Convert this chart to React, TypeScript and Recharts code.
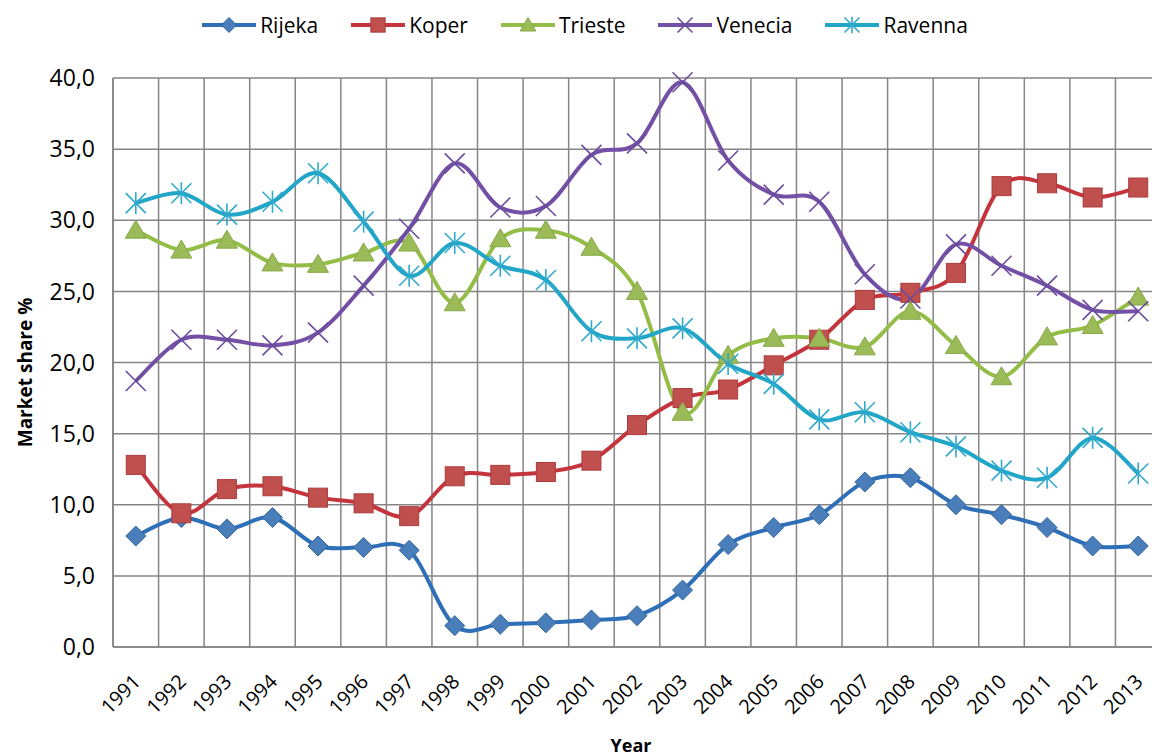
import React from "react";
import {
  CartesianGrid,
  Legend,
  Line,
  LineChart,
  XAxis,
  YAxis,
} from "recharts";

const years = [
  1991, 1992, 1993, 1994, 1995, 1996, 1997, 1998, 1999, 2000, 2001, 2002,
  2003, 2004, 2005, 2006, 2007, 2008, 2009, 2010, 2011, 2012, 2013,
];

const rijeka = [
  7.8, 9.1, 8.3, 9.1, 7.1, 7.0, 6.8, 1.5, 1.6, 1.7, 1.9, 2.2, 4.0, 7.2, 8.4,
  9.3, 11.6, 11.9, 10.0, 9.3, 8.4, 7.1, 7.1,
];
const koper = [
  12.8, 9.4, 11.1, 11.3, 10.5, 10.1, 9.2, 12.0, 12.1, 12.3, 13.1, 15.6, 17.5,
  18.1, 19.8, 21.6, 24.4, 24.9, 26.3, 32.4, 32.6, 31.6, 32.3,
];
const trieste = [
  29.3, 27.9, 28.6, 27.0, 26.9, 27.7, 28.4, 24.2, 28.7, 29.3, 28.1, 25.0, 16.5,
  20.5, 21.7, 21.7, 21.1, 23.6, 21.2, 19.0, 21.8, 22.6, 24.6,
];
const venecia = [
  18.7, 21.6, 21.6, 21.2, 22.1, 25.4, 29.4, 34.0, 30.9, 31.0, 34.6, 35.4, 39.7,
  34.2, 31.8, 31.3, 26.2, 24.5, 28.3, 26.8, 25.4, 23.7, 23.6,
];
const ravenna = [
  31.2, 31.9, 30.4, 31.3, 33.3, 29.9, 26.1, 28.4, 26.8, 25.8, 22.2, 21.7, 22.4,
  19.9, 18.5, 16.0, 16.5, 15.1, 14.1, 12.4, 11.9, 14.7, 12.2,
];

const yTicks = [0, 5, 10, 15, 20, 25, 30, 35, 40];

const data = years.map((year, i) => ({
  year,
  Rijeka: rijeka[i],
  Koper: koper[i],
  Trieste: trieste[i],
  Venecia: venecia[i],
  Ravenna: ravenna[i],
}));

type Shape = "diamond" | "square" | "triangle" | "cross" | "star";

const series: { name: string; line: string; fill: string; edge: string; shape: Shape }[] = [
  { name: "Rijeka", line: "#2e6fb7", fill: "#4a7ebb", edge: "#35679f", shape: "diamond" },
  { name: "Koper", line: "#c3343c", fill: "#c0504d", edge: "#ad3a3c", shape: "square" },
  { name: "Trieste", line: "#93bd47", fill: "#9bbb59", edge: "#86a849", shape: "triangle" },
  { name: "Venecia", line: "#7350a5", fill: "#7350a5", edge: "#6a4c9c", shape: "cross" },
  { name: "Ravenna", line: "#22a6c8", fill: "#2fa9cc", edge: "#2fa9cc", shape: "star" },
];

const FONT = "'Open Sans', 'DejaVu Sans', sans-serif";
const GRID = "#858585";

// Excel style smoothing (catmull-rom through every point)
function excelSmooth(context: any) {
  let pts: number[][] = [];
  return {
    areaStart() {},
    areaEnd() {},
    lineStart() {
      pts = [];
    },
    point(x: number, y: number) {
      pts.push([+x, +y]);
    },
    lineEnd() {
      const n = pts.length;
      if (!n) return;
      context.moveTo(pts[0][0], pts[0][1]);
      for (let i = 0; i < n - 1; i++) {
        const p0 = pts[Math.max(i - 1, 0)];
        const p1 = pts[i];
        const p2 = pts[i + 1];
        const p3 = pts[Math.min(i + 2, n - 1)];
        context.bezierCurveTo(
          p1[0] + (p2[0] - p0[0]) / 6,
          p1[1] + (p2[1] - p0[1]) / 6,
          p2[0] - (p3[0] - p1[0]) / 6,
          p2[1] - (p3[1] - p1[1]) / 6,
          p2[0],
          p2[1]
        );
      }
    },
  };
}

function marker(s: (typeof series)[number], cx: number, cy: number, k: number, key?: string) {
  const r = 10 * k;
  switch (s.shape) {
    case "diamond":
      return (
        <polygon
          key={key}
          points={`${cx},${cy - r} ${cx + r},${cy} ${cx},${cy + r} ${cx - r},${cy}`}
          fill={s.fill}
          stroke={s.edge}
          strokeWidth={1}
        />
      );
    case "square":
      return (
        <rect
          key={key}
          x={cx - 9.5 * k}
          y={cy - 9.5 * k}
          width={19 * k}
          height={19 * k}
          fill={s.fill}
          stroke={s.edge}
          strokeWidth={1}
        />
      );
    case "triangle":
      return (
        <polygon
          key={key}
          points={`${cx},${cy - r} ${cx + 10.5 * k},${cy + 8 * k} ${cx - 10.5 * k},${cy + 8 * k}`}
          fill={s.fill}
          stroke={s.edge}
          strokeWidth={1}
        />
      );
    case "cross":
      return (
        <g key={key} stroke={s.edge} strokeWidth={1.6}>
          <line x1={cx - r} y1={cy - r} x2={cx + r} y2={cy + r} />
          <line x1={cx - r} y1={cy + r} x2={cx + r} y2={cy - r} />
        </g>
      );
    default:
      return (
        <g key={key} stroke={s.edge} strokeWidth={1.6}>
          <line x1={cx - r} y1={cy - r} x2={cx + r} y2={cy + r} />
          <line x1={cx - r} y1={cy + r} x2={cx + r} y2={cy - r} />
          <line x1={cx} y1={cy - r * 1.1} x2={cx} y2={cy + r * 1.1} />
        </g>
      );
  }
}

const YearTick = (props: any) => {
  const { x, y, payload } = props;
  const ax = x + 6;
  const ay = y + 36;
  return (
    <text
      x={ax}
      y={ay}
      transform={`rotate(-45, ${ax}, ${ay})`}
      textAnchor="end"
      fontSize={20}
      fontFamily={FONT}
      fill="#000"
    >
      {payload.value}
    </text>
  );
};

const renderLegend = () => (
  <div
    style={{
      display: "flex",
      justifyContent: "center",
      alignItems: "center",
      height: 30,
      gap: 33,
    }}
  >
    {series.map((s) => (
      <div key={s.name} style={{ display: "flex", alignItems: "center" }}>
        <svg width={54} height={24}>
          <line x1={0} y1={12} x2={54} y2={12} stroke={s.line} strokeWidth={4} />
          {marker(s, 27, 12, 0.75)}
        </svg>
        <span style={{ marginLeft: 4, fontFamily: FONT, fontSize: 21, color: "#000" }}>
          {s.name}
        </span>
      </div>
    ))}
  </div>
);

export default function App() {
  return (
    <div
      style={{
        position: "absolute",
        left: 0,
        top: 0,
        width: 1152,
        height: 756,
        overflow: "hidden",
        background: "#fff",
      }}
    >
      <LineChart
        width={1170}
        height={756}
        data={data}
        margin={{ top: 48, right: 9, bottom: 9, left: 13 }}
      >
        <CartesianGrid
          stroke={GRID}
          strokeWidth={1.5}
          verticalCoordinatesGenerator={({ offset }: any) =>
            years
              .concat([2014])
              .map((yr) => offset.left + ((yr - 0.5 - 1990.5) / 23) * offset.width)
          }
        />
        <XAxis
          dataKey="year"
          type="number"
          domain={[1990.5, 2013.5]}
          allowDataOverflow
          ticks={years}
          interval={0}
          tick={<YearTick />}
          tickLine={false}
          tickSize={0}
          tickMargin={0}
          axisLine={{ stroke: GRID, strokeWidth: 1.5 }}
          height={100}
          label={{
            content: ({ viewBox }: any) => (
              <text
                x={viewBox.x + viewBox.width / 2 - 6}
                y={viewBox.y + 105}
                textAnchor="middle"
                fontFamily={FONT}
                fontWeight="bold"
                fontSize={18}
                fill="#000"
              >
                Year
              </text>
            ),
          }}
        />
        <YAxis
          domain={[0, 40]}
          ticks={yTicks}
          interval={0}
          width={100}
          tickLine={false}
          tickSize={6}
          tickMargin={12}
          tickFormatter={(v: number) => v.toFixed(1).replace(".", ",")}
          tick={{ fontSize: 23, fontFamily: FONT, fill: "#000" }}
          axisLine={{ stroke: GRID, strokeWidth: 1.5 }}
          label={{
            content: ({ viewBox }: any) => (
              <text
                transform={`translate(${viewBox.x + 12}, ${viewBox.y + viewBox.height / 2 + 10}) rotate(-90)`}
                textAnchor="middle"
                dominantBaseline="central"
                fontFamily={FONT}
                fontWeight="bold"
                fontSize={19}
                fill="#000"
              >
                Market share %
              </text>
            ),
          }}
        />
        <Legend
          verticalAlign="top"
          content={renderLegend}
          wrapperStyle={{ top: 10, left: 0, width: 1170 }}
        />
        {series.map((s) => (
          <Line
            key={s.name}
            dataKey={s.name}
            type={excelSmooth as any}
            stroke={s.line}
            strokeWidth={4}
            isAnimationActive={false}
            dot={(p: any) => marker(s, p.cx, p.cy, 1, `${s.name}-${p.index}`)}
            activeDot={false}
          />
        ))}
      </LineChart>
    </div>
  );
}
